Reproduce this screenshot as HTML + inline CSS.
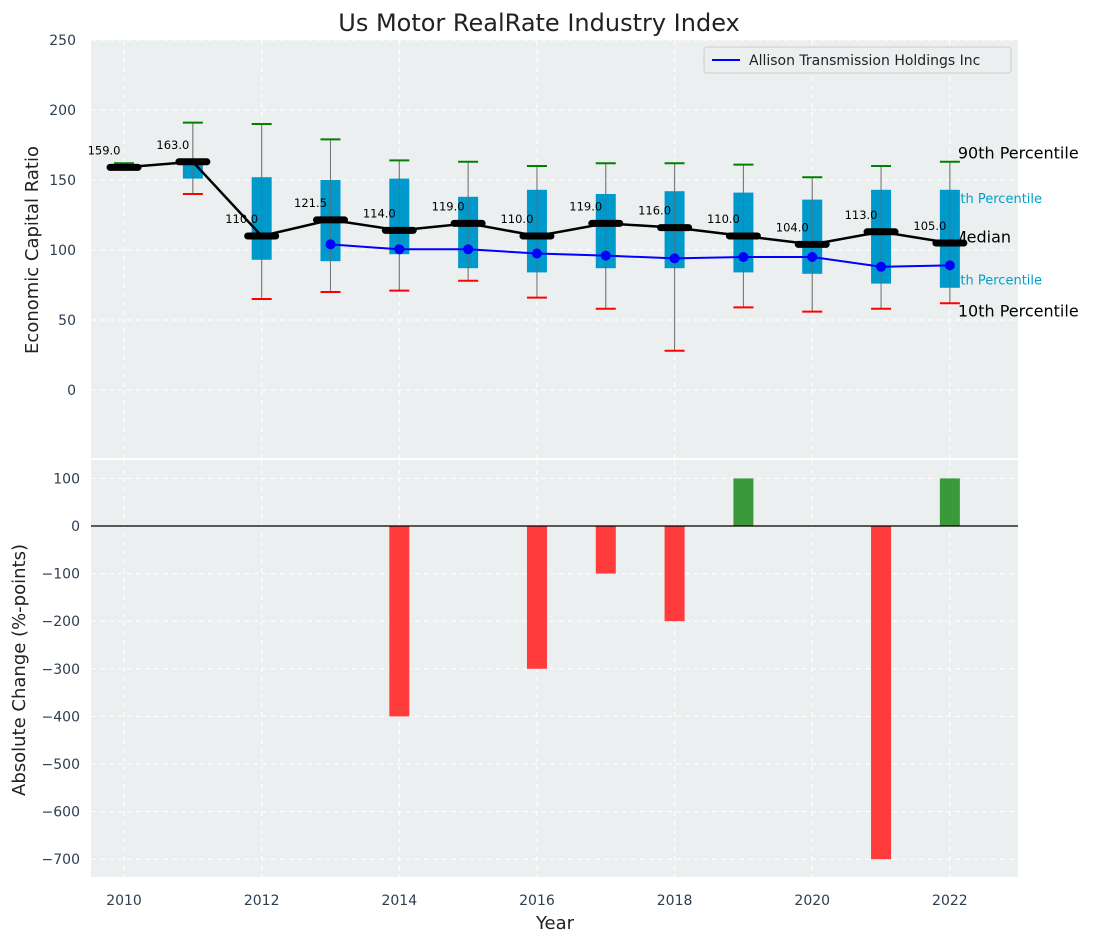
<!DOCTYPE html>
<html><head><meta charset="utf-8"><style>body{margin:0;background:#fff}svg{display:block;font-family:"DejaVu Sans","Liberation Sans",sans-serif}</style></head>
<body>
<svg id="c" width="1093" height="942" xmlns="http://www.w3.org/2000/svg"></svg>
<script>
const years=[2010,2011,2012,2013,2014,2015,2016,2017,2018,2019,2020,2021,2022];
const medians=[159,163,110,121.5,114,119,110,119,116,110,104,113,105];
const q1=[159,151,93,92,97,87,84,87,87,84,83,76,73];
const q3=[159,163,152,150,151,138,143,140,142,141,136,143,143];
const p10=[159,140,65,70,71,78,66,58,28,59,56,58,62];
const p90=[162,191,190,179,164,163,160,162,162,161,152,160,163];
const companyYears=[2013,2014,2015,2016,2017,2018,2019,2020,2021,2022];
const companyVals=[104,100.5,100.5,97.5,96,94,95,95,88,89];
const changes=[0,0,0,0,-400,0,-300,-100,-200,100,0,-700,100];
const topTicks=[0,50,100,150,200,250];
const botTicks=[100,0,-100,-200,-300,-400,-500,-600,-700];
const xTicks=[2010,2012,2014,2016,2018,2020,2022];

const NS="http://www.w3.org/2000/svg",svg=document.getElementById('c');
const L=91,R=1018;
const x=v=>L+(v-2009.52)*(R-L)/(2022.99-2009.52);
const yT=v=>390-(v)*1.4;
const yB=v=>526-v*0.476;
function el(t,a,txt){const e=document.createElementNS(NS,t);for(const k in a)e.setAttribute(k,a[k]);if(txt!==undefined)e.textContent=txt;svg.appendChild(e);return e;}
let e;
e=el('rect',{x:L,y:40,width:R-L,height:418,fill:'#eceff0'});
e=el('rect',{x:L,y:460,width:R-L,height:417,fill:'#eceff0'});
// grids
topTicks.forEach(t=>{el('line',{x1:L,x2:R,y1:yT(t),y2:yT(t),stroke:'#fff','stroke-dasharray':'5,4','stroke-width':1});
e=el('text',{x:76,y:yT(t)+5,'text-anchor':'end','font-size':14,fill:'#2c3e50'},t);});
botTicks.forEach(t=>{el('line',{x1:L,x2:R,y1:yB(t),y2:yB(t),stroke:'#fff','stroke-dasharray':'5,4','stroke-width':1});
e=el('text',{x:80,y:yB(t)+5,'text-anchor':'end','font-size':14,fill:'#2c3e50'},t<0?'\u2212'+(-t):t);});
xTicks.forEach(t=>{el('line',{x1:x(t),x2:x(t),y1:40,y2:458,stroke:'#fff','stroke-dasharray':'5,4'});el('line',{x1:x(t),x2:x(t),y1:460,y2:877,stroke:'#fff','stroke-dasharray':'5,4'});
e=el('text',{x:x(t),y:905,'text-anchor':'middle','font-size':14,fill:'#2c3e50'},t);});
// right labels
const lx=x(2022)+8;
[['90th Percentile',p90[12]+6,'#000',16],['75th Percentile',q3[12]-6,'#00a0c8',13],['Median',medians[12]+4,'#000',16],['25th Percentile',q1[12]+6,'#00a0c8',13],['10th Percentile',p10[12]-6,'#000',16]].forEach(a=>{
e=el('text',{x:a[0].includes('Median')?lx-5:(a[3]==13?lx-14:lx),y:yT(a[1])+5,'font-size':a[3],fill:a[2]},a[0]);});
// boxes
years.forEach((yr,i)=>{const cx=x(yr);
e=el('line',{x1:cx,x2:cx,y1:yT(p10[i]),y2:yT(p90[i]),stroke:'#888','stroke-width':1});
if(q3[i]>q1[i]){e=el('rect',{x:cx-10,y:yT(q3[i]),width:20,height:(q3[i]-q1[i])*1.4,fill:'#0099cc'});}
el('line',{x1:cx,x2:cx,y1:yT(p10[i]),y2:yT(p90[i]),stroke:'#666','stroke-width':1,opacity:0.6});
e=el('line',{x1:cx-10,x2:cx+10,y1:yT(p90[i]),y2:yT(p90[i]),stroke:'green','stroke-width':2});
e=el('line',{x1:cx-10,x2:cx+10,y1:yT(p10[i]),y2:yT(p10[i]),stroke:'red','stroke-width':2});
});
// median line
e=el('polyline',{points:years.map((yr,i)=>x(yr)+','+yT(medians[i])).join(' '),fill:'none',stroke:'#000','stroke-width':2.5});
years.forEach((yr,i)=>{const cx=x(yr);
e=el('line',{x1:cx-14,x2:cx+14,y1:yT(medians[i]),y2:yT(medians[i]),stroke:'#000','stroke-width':7,'stroke-linecap':'round'});
e=el('text',{x:cx-20,y:yT(medians[i])-13,'text-anchor':'middle','font-size':11.5,fill:'#000'},medians[i].toFixed(1));});
// company line
e=el('polyline',{points:companyYears.map((yr,i)=>x(yr)+','+yT(companyVals[i])).join(' '),fill:'none',stroke:'#0000ff','stroke-width':2});
companyYears.forEach((yr,i)=>{e=el('circle',{cx:x(yr),cy:yT(companyVals[i]),r:5,fill:'#0000ff'});});
// bars
years.forEach((yr,i)=>{const v=changes[i];if(!v)return;const y0=yB(0),y1=yB(v);
e=el('rect',{x:x(yr)-10,y:Math.min(y0,y1),width:20,height:Math.abs(y1-y0),fill:v>0?'#3a9a3a':'#ff3b3b'});});
el('line',{x1:L,x2:R,y1:yB(0),y2:yB(0),stroke:'#000','stroke-width':1.2});
// legend
e=el('rect',{x:704,y:47,width:307,height:26,fill:'#eceff0',stroke:'#ccc',rx:3});
el('line',{x1:712,x2:740,y1:60,y2:60,stroke:'#0000ff','stroke-width':2});
e=el('text',{x:749,y:65,'font-size':14,fill:'#222'},'Allison Transmission Holdings Inc');
// titles
e=el('text',{x:539,y:31,'text-anchor':'middle','font-size':24,fill:'#222'},'Us Motor RealRate Industry Index');
e=el('text',{x:38,y:250,'text-anchor':'middle','font-size':18,fill:'#222',transform:'rotate(-90 38 250)'},'Economic Capital Ratio');
e=el('text',{x:25,y:670,'text-anchor':'middle','font-size':18,fill:'#222',transform:'rotate(-90 25 670)'},'Absolute Change (%-points)');
e=el('text',{x:555,y:929,'text-anchor':'middle','font-size':18,fill:'#222'},'Year');
</script>
</body></html>
